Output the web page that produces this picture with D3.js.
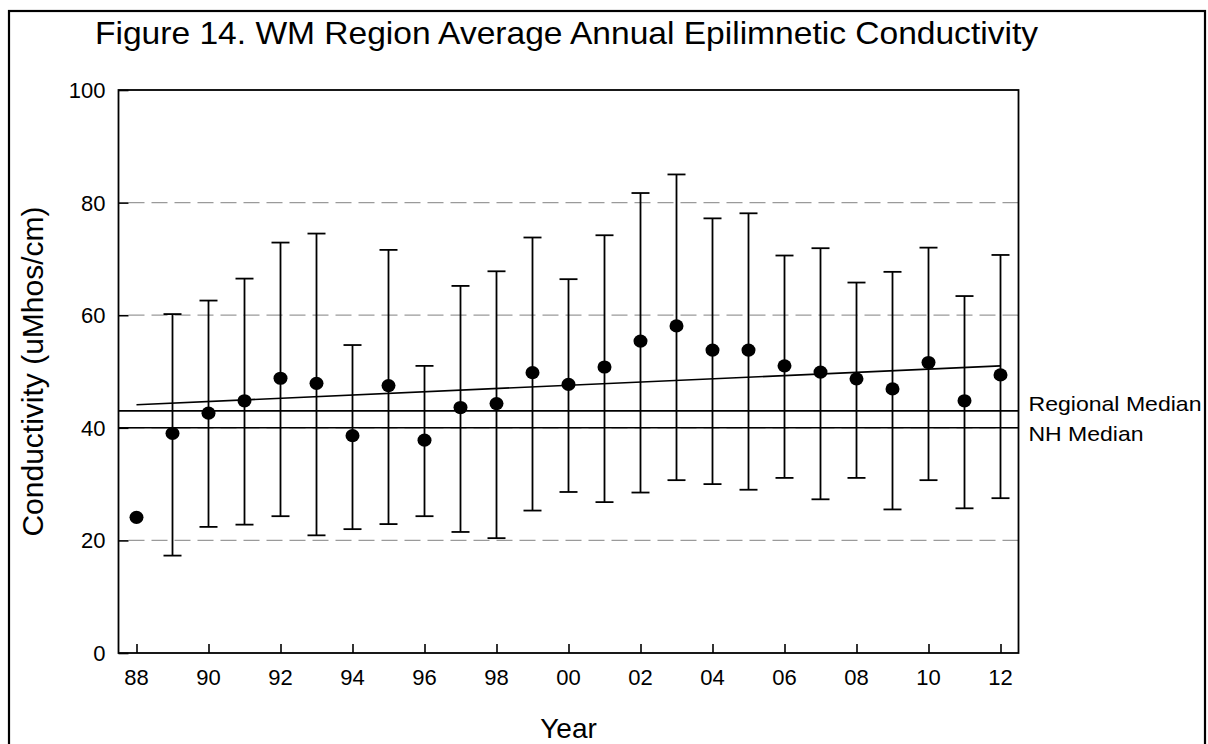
<!DOCTYPE html>
<html>
<head>
  <meta charset="utf-8">
  <title>Figure 14</title>
  <script src="https://d3js.org/d3.v7.min.js"></script>
  <style>
    body { margin: 0; background: #fff; }
    text { font-family: Arial, "Liberation Sans", sans-serif; fill: #000; }
  </style>
</head>
<body>
<script>
  // years as 2-digit offsets from 1900 (88 .. 112 = 2012)
  const years = d3.range(88, 113);
  const means = [24.1, 39.0, 42.6, 44.8, 48.8, 47.9, 38.6, 47.5, 37.8, 43.6, 44.3, 49.8, 47.7,
                 50.8, 55.4, 58.1, 53.8, 53.8, 51.0, 49.9, 48.7, 46.9, 51.6, 44.8, 49.4];
  const upper = [null, 60.2, 62.6, 66.5, 72.9, 74.5, 54.7, 71.6, 51.0, 65.2, 67.8, 73.8, 66.4,
                 74.2, 81.7, 85.0, 77.2, 78.1, 70.6, 71.9, 65.8, 67.7, 72.0, 63.4, 70.7];
  const lower = [null, 17.3, 22.4, 22.8, 24.3, 20.9, 22.0, 22.9, 24.3, 21.5, 20.4, 25.3, 28.6,
                 26.8, 28.5, 30.7, 30.0, 29.0, 31.1, 27.3, 31.1, 25.5, 30.7, 25.7, 27.5];
  const trend = [[88, 44.1], [112, 51.0]];
  const regionalMedian = 43;
  const nhMedian = 40;
  const yTicks = [0, 20, 40, 60, 80, 100];
  const gridLines = [20, 40, 60, 80];
  const xTicks = d3.range(88, 113, 2);

  const W = 1208, H = 744;
  const plot = {left: 118.5, right: 1018.5, top: 90, bottom: 653};

  const svg = d3.select("body").append("svg")
    .attr("width", W).attr("height", H);

  svg.append("rect")
    .attr("x", 9).attr("y", 11).attr("width", 1196).attr("height", 745)
    .attr("fill", "none").attr("stroke", "#000").attr("stroke-width", 2.2);

  const x = d3.scaleLinear().domain([87.5, 112.5]).range([plot.left, plot.right]);
  const y = d3.scaleLinear().domain([0, 100]).range([plot.bottom, plot.top]);

  // dashed grid
  svg.append("g").selectAll("line")
    .data(gridLines)
    .join("line")
      .attr("x1", plot.left + 10).attr("x2", plot.right)
      .attr("y1", d => y(d)).attr("y2", d => y(d))
      .attr("stroke", "#9a9a9a").attr("stroke-width", 1.3)
      .attr("stroke-dasharray", "16,7");

  // axes (ticks pointing inward)
  const yAxis = svg.append("g")
    .attr("transform", `translate(${plot.left},0)`)
    .call(d3.axisRight(y).tickValues(yTicks).tickSize(10).tickFormat(""));
  yAxis.select(".domain").remove();
  yAxis.selectAll(".tick line").attr("stroke-width", 1.6);

  svg.append("g").selectAll("text")
    .data(yTicks)
    .join("text")
      .attr("x", plot.left - 13)
      .attr("y", d => y(d) + 8)
      .attr("text-anchor", "end")
      .style("font-size", "22px")
      .text(d => d);

  const xAxis = svg.append("g")
    .attr("transform", `translate(0,${plot.bottom})`)
    .call(d3.axisTop(x).tickValues(xTicks).tickSize(9).tickFormat(""));
  xAxis.select(".domain").remove();
  xAxis.selectAll(".tick line").attr("stroke-width", 1.6);

  svg.append("g").selectAll("text")
    .data(xTicks)
    .join("text")
      .attr("x", d => x(d))
      .attr("y", plot.bottom + 32)
      .attr("text-anchor", "middle")
      .style("font-size", "22px")
      .text(d => String(d % 100).padStart(2, "0"));

  // frame
  svg.append("rect")
    .attr("x", plot.left).attr("y", plot.top)
    .attr("width", plot.right - plot.left).attr("height", plot.bottom - plot.top)
    .attr("fill", "none").attr("stroke", "#000").attr("stroke-width", 1.8);

  // median lines
  svg.append("g").selectAll("line")
    .data([regionalMedian, nhMedian])
    .join("line")
      .attr("x1", plot.left).attr("x2", plot.right)
      .attr("y1", d => y(d)).attr("y2", d => y(d))
      .attr("stroke", "#000").attr("stroke-width", 1.6);

  // trend line
  svg.append("line")
    .attr("x1", x(trend[0][0])).attr("y1", y(trend[0][1]))
    .attr("x2", x(trend[1][0])).attr("y2", y(trend[1][1]))
    .attr("stroke", "#000").attr("stroke-width", 1.6);

  const pts = years.map((yr, i) => ({yr, m: means[i], hi: upper[i], lo: lower[i]}));

  // error bars
  const eb = svg.append("g").attr("stroke", "#000").attr("stroke-width", 1.8)
    .selectAll("g")
    .data(pts.filter(d => d.hi != null))
    .join("g");
  eb.append("line")
    .attr("x1", d => x(d.yr)).attr("x2", d => x(d.yr))
    .attr("y1", d => y(d.hi)).attr("y2", d => y(d.lo));
  eb.append("line")
    .attr("x1", d => x(d.yr) - 9).attr("x2", d => x(d.yr) + 9)
    .attr("y1", d => y(d.hi)).attr("y2", d => y(d.hi));
  eb.append("line")
    .attr("x1", d => x(d.yr) - 9).attr("x2", d => x(d.yr) + 9)
    .attr("y1", d => y(d.lo)).attr("y2", d => y(d.lo));

  // points
  svg.append("g").selectAll("ellipse")
    .data(pts)
    .join("ellipse")
      .attr("cx", d => x(d.yr))
      .attr("cy", d => y(d.m))
      .attr("rx", 7).attr("ry", 6.6)
      .attr("fill", "#000");

  // median labels
  svg.append("text")
    .attr("x", plot.right + 10).attr("y", y(regionalMedian))
    .style("font-size", "21px")
    .attr("textLength", 173).attr("lengthAdjust", "spacingAndGlyphs")
    .text("Regional Median");
  svg.append("text")
    .attr("x", plot.right + 10).attr("y", y(nhMedian) + 13)
    .style("font-size", "21px")
    .attr("textLength", 115).attr("lengthAdjust", "spacingAndGlyphs")
    .text("NH Median");

  // title
  svg.append("text")
    .attr("x", 95).attr("y", 44)
    .style("font-size", "32px")
    .attr("textLength", 943).attr("lengthAdjust", "spacingAndGlyphs")
    .text("Figure 14. WM Region Average Annual Epilimnetic Conductivity");

  // axis titles
  svg.append("text")
    .attr("transform", `translate(43,${(plot.top + plot.bottom) / 2}) rotate(-90)`)
    .attr("text-anchor", "middle")
    .style("font-size", "30px")
    .text("Conductivity (uMhos/cm)");

  svg.append("text")
    .attr("x", (plot.left + plot.right) / 2).attr("y", 738)
    .attr("text-anchor", "middle")
    .style("font-size", "28px")
    .text("Year");
</script>
</body>
</html>
